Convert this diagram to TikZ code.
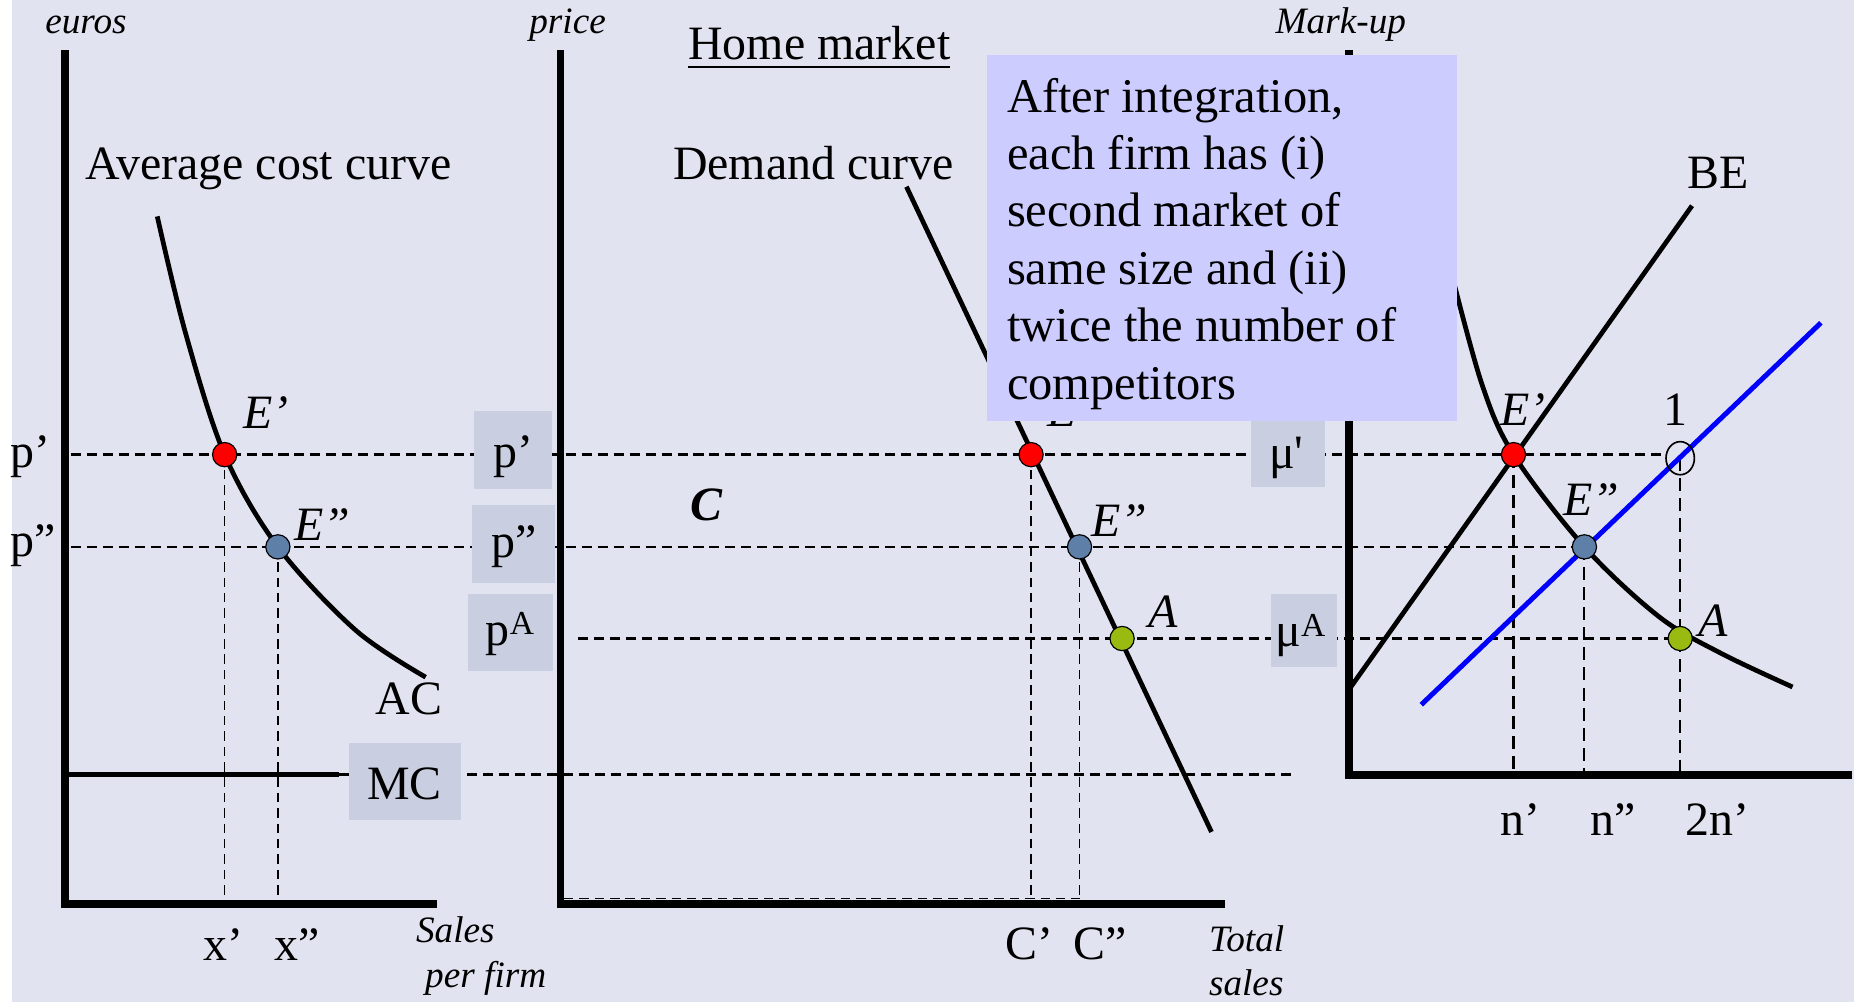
\documentclass[tikz,border=0pt]{standalone}
\usepackage{fontspec}
\setmainfont{Liberation Serif}
\usetikzlibrary{shapes.geometric}
\definecolor{bgc}{HTML}{E1E4F0}
\definecolor{lblc}{HTML}{C9CFE0}
\definecolor{notec}{HTML}{CCCCFF}
\definecolor{dotred}{HTML}{FF0000}
\definecolor{dotblue}{HTML}{5E80A8}
\definecolor{dotgreen}{HTML}{99BB11}
\newcommand\fsmain{\fontsize{40.5}{48.5}\selectfont}
\newcommand\fsnote{\fontsize{41}{48.5}\selectfont}
\newcommand\fssmall{\fontsize{31.5}{36}\selectfont\itshape}
\begin{document}
\begin{tikzpicture}[x=1pt,y=-1pt,
  axisline/.style={line width=6.5pt, line join=miter},
  curveline/.style={line width=4pt},
  guide/.style={line width=2pt, dash pattern=on 8.5pt off 5pt},
  vguide/.style={line width=1.4pt, dash pattern=on 8pt off 5pt},
  vguidelong/.style={line width=1.8pt, dash pattern=on 11pt off 6pt},
  lblbox/.style={fill=lblc, draw=none, inner sep=0pt},
  dotnode/.style={circle, draw=black, line width=1pt, minimum size=20.5pt, inner sep=0pt},
  txt/.style={inner sep=0pt, font=\fsmain},
  itxt/.style={inner sep=0pt, font=\fsmain\itshape},
  smalltxt/.style={inner sep=0pt, font=\fssmall}]
\useasboundingbox (0,0) rectangle (1568,847);
\fill[white] (0,0) rectangle (1568,847);
\fill[bgc] (10,0) rectangle (1568,847);

% key coordinates
\coordinate (O1) at (55,764.5);
\coordinate (O2) at (474,764.5);
\coordinate (O3) at (1141,655.5);
\coordinate (e1) at (190,384.5);
\coordinate (f1) at (235,462.5);
\coordinate (e2) at (872,384.5);
\coordinate (f2) at (913,462.5);
\coordinate (a2) at (949,540);
\coordinate (e3) at (1280,384.5);
\coordinate (f3) at (1340,462.5);
\coordinate (a3) at (1421,540);
\coordinate (c3) at (1421,387.5);
\coordinate (PpL) at (60,384.5);
\coordinate (PppL) at (60,462.5);
\coordinate (PAL) at (489,540);
\coordinate (MCend) at (1092,655);
\coordinate (MCstart) at (287,655);
\coordinate (BotL) at (477,760);

% dashed guides
\draw[guide] (PpL) -- ([xshift=-12pt]c3 |- PpL);
\draw[guide] (PppL) -- (f3);
\draw[guide] (PAL) -- (a3);
\draw[guide] (MCstart) -- (MCend);
\draw[vguide] (BotL) -- (BotL -| f2);
\draw[vguide] (e1) -- (e1 |- O1);
\draw[vguide] (f1) -- (f1 |- O1);
\draw[vguide] (e2) -- (e2 |- O2);
\draw[vguide] (f2) -- (f2 |- O2);
\draw[vguidelong] (e3) -- (e3 |- O3);
\draw[vguidelong] (f3) -- (f3 |- O3);
\draw[vguidelong] (c3) -- (c3 |- O3);

% label boxes
\node[lblbox, minimum width=66pt, minimum height=66pt] (bp1) at (434,380.3) {};
\node[lblbox, minimum width=71pt, minimum height=66pt] (bp2) at (434.3,459.9) {};
\node[lblbox, minimum width=72pt, minimum height=65.5pt] (bpA) at (431.4,535) {};
\node[lblbox, minimum width=95pt, minimum height=65pt] (bMC) at (342.6,660.7) {};
\node[lblbox, minimum width=63pt, minimum height=67pt] (bmu1) at (1089.5,378.5) {};
\node[lblbox, minimum width=56pt, minimum height=61.6pt] (bmuA) at (1103,533.2) {};
\node[txt, anchor=base] (tp1) at (434,395) {p'};
\node[txt, anchor=base] (tp2) at (434.6,471.4) {p''};
\node[txt, anchor=base] (tpA) at (431.6,546) {p\textsuperscript{A}};
\node[txt, anchor=base] (tMC) at (342,676) {MC};
\node[txt, anchor=base] (tmu1) at (1088,396) {μ\textquotesingle};
\node[txt, anchor=base] (tmuA) at (1100,547) {μ\textsuperscript{A}};

% axes
\draw[axisline] (55,42.3) -- (O1) -- (370,764.5);
\draw[axisline] (474,42.3) -- (O2) -- (1036,764.5);
\draw[axisline] (1141,42.3) -- (O3) -- (1566,655.5);

% curves
\draw[curveline] plot[smooth, tension=0.55] coordinates {(133,183) (157,282) (e1) (f1) (300.8,533) (360,572.7)};
\draw[curveline] (55,655) -- (MCstart);
\draw[curveline] (766.6,157.9) -- (1024.6,703.6);
\draw[curveline] (1141,583) -- (1431,174);
\draw[curveline] plot[smooth, tension=0.55] coordinates {(1226,225) (1253,324) (e3) (f3) (1403,521.5) (1455.5,552.5) (1516,581)};
\draw[line width=4.2pt, blue] (1202,596) -- (1540,273);
\node[ellipse, draw=black, fill=none, line width=1.4pt, minimum width=24pt, minimum height=28pt, inner sep=0pt] (one) at (c3) {};

% dots
\node[dotnode, fill=dotred] (E1) at (e1) {};
\node[dotnode, fill=dotblue] (F1) at (f1) {};
\node[dotnode, fill=dotred] (E2) at (e2) {};
\node[dotnode, fill=dotblue] (F2) at (f2) {};
\node[dotnode, fill=dotgreen] (A2) at (a2) {};
\node[dotnode, fill=dotred] (E3) at (e3) {};
\node[dotnode, fill=dotblue] (F3) at (f3) {};
\node[dotnode, fill=dotgreen] (A3) at (a3) {};

% point labels
\node[itxt, anchor=base west] (lE1) at (205.6,362) {E'};
\node[itxt, anchor=base west] (lF1) at (249,457) {E''};
\node[itxt, anchor=base west] (lE2) at (885.6,361) {E'};
\node[itxt, anchor=base west] (lF2) at (922.5,453.5) {E''};
\node[itxt, anchor=base west] (lA2) at (971,530.5) {A};
\node[itxt, anchor=base west] (lE3) at (1268.7,359.5) {E'};
\node[itxt, anchor=base west] (lF3) at (1321.7,435.6) {E''};
\node[itxt, anchor=base west] (lA3) at (1436,538.5) {A};
\node[txt, anchor=base] (l1) at (1416.7,359.5) {1};

% other texts
\node[smalltxt, anchor=base] (teuros) at (72.7,28) {euros};
\node[smalltxt, anchor=base] (tprice) at (480,28) {price};
\node[txt, anchor=base west] (tavg) at (72,152) {Average cost curve};
\node[txt, anchor=base west] (thome) at (582,50.7) {Home market};
\draw[line width=1.6pt] (582,56.4) -- (803.4,56.4);
\node[txt, anchor=base west] (tdem) at (569,152) {Demand curve};
\node[txt, anchor=base west] (tAC) at (317.6,604.5) {AC};
\node[txt, anchor=base west] (tBE) at (1426.6,159.3) {BE};
\node[txt, anchor=base west] (tpl1) at (8.4,395) {p'};
\node[txt, anchor=base west] (tpl2) at (8.4,471) {p''};
\node[inner sep=0pt, font=\fsmain\bfseries\itshape, anchor=base west] (tC) at (583.6,440.6) {C};
\node[txt, anchor=base west] (tx1) at (172,812) {x'};
\node[txt, anchor=base west] (tx2) at (232,812) {x''};
\node[txt, anchor=base west] (tC1) at (850.6,811.5) {C'};
\node[txt, anchor=base west] (tC2) at (907.5,811.5) {C''};
\node[txt, anchor=base west] (tn1) at (1268.6,707) {n'};
\node[txt, anchor=base west] (tn2) at (1344.7,707) {n''};
\node[txt, anchor=base west] (tn3) at (1425,707) {2n'};
\node[smalltxt, anchor=base west] (tsales) at (351.7,797.5) {Sales};
\node[smalltxt, anchor=base west] (tperfirm) at (359.4,835) {per firm};
\node[smalltxt, anchor=base west] (ttotal) at (1022.3,805) {Total};
\node[smalltxt, anchor=base west] (tsales2) at (1022.3,841.5) {sales};

% note box
\node[fill=notec, draw=none, inner sep=0pt, anchor=north west, minimum width=397.5pt, minimum height=309.3pt] (notebg) at (834.5,46.5) {};
\node[inner sep=0pt, anchor=north west, align=left, font=\fsnote] (note) at (851.5,65.9) {After integration,\\each firm has (i)\\second market of\\same size and (ii)\\twice the number of\\competitors};
\node[smalltxt, anchor=base] (tmark) at (1134,28) {Mark-up};
\end{tikzpicture}
\end{document}
